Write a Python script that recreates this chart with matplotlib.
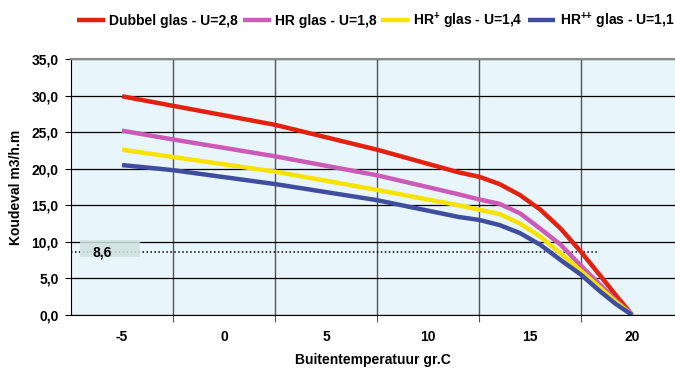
import matplotlib
matplotlib.use('Agg')
import matplotlib.pyplot as plt
from matplotlib.patches import Rectangle
from matplotlib.ticker import FuncFormatter

plt.rcParams['font.family'] = ['Liberation Sans', 'DejaVu Sans']
plt.rcParams['font.weight'] = 'bold'
plt.rcParams['mathtext.fontset'] = 'custom'
plt.rcParams['mathtext.bf'] = 'Liberation Sans:bold'
plt.rcParams['mathtext.rm'] = 'Liberation Sans:bold'
plt.rcParams['mathtext.default'] = 'bf'

# read positions (outside temperature, gr.C)
temp = [-5, -2.5, 2.5, 7.5, 11.5, 12.5, 13.5, 14.5, 15.5, 16.5, 17.5, 18.4, 19.2, 20]

dubbel = [29.9, 28.6, 26.0, 22.6, 19.5, 18.9, 17.9, 16.4, 14.4, 11.8, 8.6, 5.5, 2.7, 0]
hr = [25.2, 24.0, 21.7, 19.1, 16.5, 15.8, 15.2, 13.9, 11.8, 9.6, 6.7, 4.2, 2.0, 0]
hr_plus = [22.6, 21.6, 19.6, 17.1, 15.0, 14.4, 13.8, 12.5, 10.7, 8.4, 6.0, 3.8, 1.8, 0]
hr_plusplus = [20.5, 19.8, 17.9, 15.7, 13.4, 13.0, 12.3, 11.2, 9.6, 7.5, 5.5, 3.3, 1.5, 0]

labels = ['Dubbel glas - U=2,8', 'HR glas - U=1,8',
          'HR$^{+}$ glas - U=1,4', 'HR$^{{+}{+}}$ glas - U=1,1']
colors = ['#e4200f', '#cc5bb8', '#f7e200', '#3f4d9e']

threshold = 8.6
threshold_end = 18.3
x_labels = [-5, 0, 5, 10, 15, 20]
x_grid = [-2.5, 2.5, 7.5, 12.5, 17.5]

fig = plt.figure(figsize=(6.75, 3.69), dpi=100)
ax = fig.add_axes([71 / 675, 54 / 369, 1 - 71 / 675, 256 / 369])
ax.set_facecolor('#e8f5fa')

for y, lab, c in zip([dubbel, hr, hr_plus, hr_plusplus], labels, colors):
    ax.plot(temp, y, color=c, lw=3.2, label=lab, solid_capstyle='butt',
            solid_joinstyle='round')

# reference level 8,6 with its label box
ax.plot([-7.5, threshold_end], [threshold, threshold], color='black', lw=1.1,
        linestyle=(0, (1, 1.6)), zorder=1)
ax.add_patch(Rectangle((-7.05, 7.9), 2.95, 2.4, facecolor='#d0e2e0', edgecolor='none',
                       alpha=0.85, zorder=2))
ax.text(-5.95, threshold, '8,6', fontsize=10, fontweight='bold', va='center', ha='center',
        zorder=3)

ax.set_xlim(-7.5, 22.1)
ax.set_ylim(0, 35)
ax.set_yticks(range(0, 36, 5))
ax.yaxis.set_major_formatter(FuncFormatter(lambda v, p: f'{v:.1f}'.replace('.', ',')))
ax.set_xticks(x_grid)
ax.set_xticklabels([])
ax.set_xticks(x_labels, minor=True)
ax.set_xticklabels([str(v) for v in x_labels], minor=True)
ax.tick_params(axis='x', which='minor', length=0, pad=11, labelsize=10)
ax.tick_params(axis='x', which='major', length=5, color='#555555', direction='out')
ax.tick_params(axis='y', length=4, labelsize=10, direction='out', pad=5)

ax.grid(axis='y', color='black', lw=0.9, zorder=0)
ax.grid(axis='x', which='major', color='#555555', lw=1.0, zorder=0)
ax.set_axisbelow(True)

ax.spines['right'].set_visible(False)
ax.spines['top'].set_color('#8a8a8a')
ax.spines['top'].set_linewidth(1.5)
ax.spines['bottom'].set_color('black')
ax.spines['left'].set_color('black')

ax.set_xlabel('Buitentemperatuur gr.C', fontsize=10, fontweight='bold', labelpad=6)
ax.set_ylabel('Koudeval m3/h.m', fontsize=10, fontweight='bold', labelpad=6)

fig.legend(loc='center', bbox_to_anchor=(0.557, 1 - 20.5 / 369), ncol=4, frameon=False,
           fontsize=10, handlelength=2.0, handletextpad=0.3, columnspacing=0.35,
           borderpad=0)

fig.savefig('out.png', dpi=100)
